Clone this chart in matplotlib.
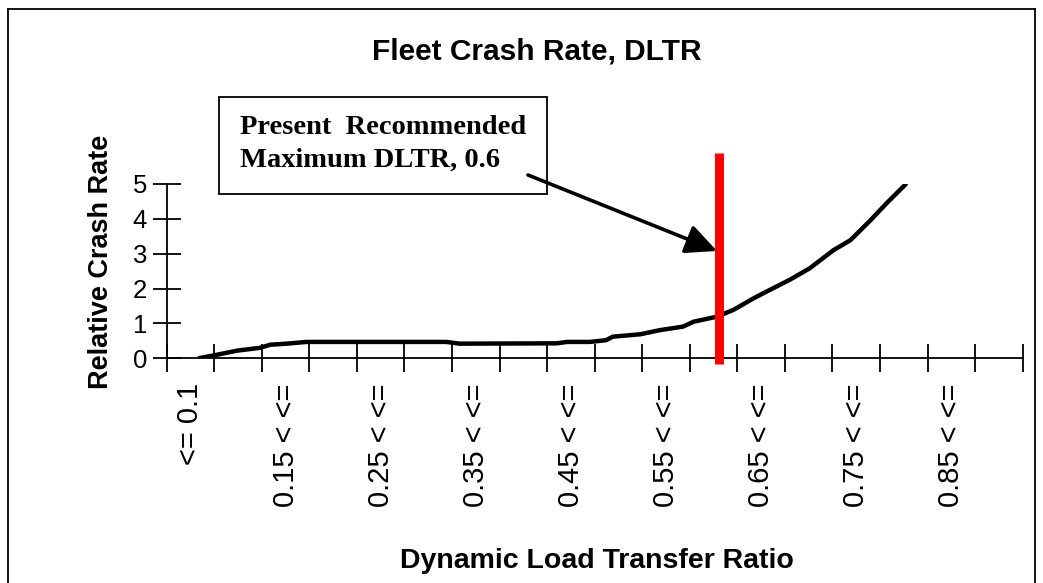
import matplotlib
matplotlib.use("Agg")
import matplotlib.pyplot as plt
from matplotlib.patches import Rectangle
from matplotlib.lines import Line2D

plt.rcParams["font.family"] = ["Liberation Sans", "DejaVu Sans"]

# DLTR bin edges (category axis) and the labels Excel actually printed
bin_edges = [0.05 + 0.05 * i for i in range(19)]
label_pos = [0.075, 0.175, 0.275, 0.375, 0.475, 0.575, 0.675, 0.775, 0.875]
bin_labels = ["<= 0.1", "0.15 < <=", "0.25 < <=", "0.35 < <=", "0.45 < <=",
              "0.55 < <=", "0.65 < <=", "0.75 < <=", "0.85 < <="]

# Relative crash rate curve
dltr = [0.083, 0.099, 0.124, 0.148, 0.159, 0.176, 0.197, 0.344, 0.358, 0.460,
        0.471, 0.495, 0.512, 0.519, 0.548, 0.569, 0.593, 0.604, 0.628, 0.646,
        0.667, 0.684, 0.705, 0.726, 0.751, 0.769, 0.790, 0.807, 0.828]
crash_rate = [0.0, 0.08, 0.22, 0.30, 0.39, 0.42, 0.47, 0.47, 0.42, 0.43,
              0.47, 0.47, 0.52, 0.62, 0.69, 0.81, 0.91, 1.05, 1.19, 1.39,
              1.72, 1.96, 2.25, 2.58, 3.10, 3.39, 3.96, 4.45, 5.02]

limit_x = 0.631  # red marker as drawn
limit_y = [-0.17, 5.89]

fig = plt.figure(figsize=(10.43, 5.83), dpi=100)
ax = fig.add_axes([0.1598, 0.3854, 0.8207, 0.2990])

ax.plot(dltr, crash_rate, color="black", lw=3.2, solid_capstyle="butt")
ax.plot([limit_x, limit_x], limit_y, color="#ff0000", lw=6.5,
        solid_capstyle="butt", clip_on=False, zorder=5)

ax.set_xlim(0.05, 0.95)
ax.set_ylim(0, 5)
for side in ["top", "right"]:
    ax.spines[side].set_visible(False)
for side in ["left", "bottom"]:
    ax.spines[side].set_linewidth(1.3)

ax.set_xticks(bin_edges)
ax.set_xticklabels([])
ax.set_xticks(label_pos, minor=True)
ax.set_xticklabels(bin_labels, minor=True, rotation=90, fontsize=21,
                   va="top")
ax.tick_params(axis="x", which="major", direction="inout", length=20,
               width=1.3)
ax.tick_params(axis="x", which="minor", length=0, pad=18)
ax.set_yticks(range(6))
ax.tick_params(axis="y", direction="inout", length=20, width=1.3,
               labelsize=18.5, pad=4)

# annotation box + arrow
box = Rectangle((219 / 1043, 1 - 194 / 583), (547 - 219) / 1043,
                (194 - 97) / 583, transform=fig.transFigure,
                fill=False, lw=1.3, edgecolor="black")
fig.patches.append(box)
fig.text(240 / 1043, 1 - 127 / 583, "Present  Recommended",
         family=["Liberation Serif", "DejaVu Serif"], weight="bold",
         fontsize=20.5, va="center", ha="left")
fig.text(240 / 1043, 1 - 160 / 583, "Maximum DLTR, 0.6",
         family=["Liberation Serif", "DejaVu Serif"], weight="bold",
         fontsize=20.5, va="center", ha="left")
ax.annotate("", xy=(717 / 1043, 1 - 251 / 583), xycoords="figure fraction",
            xytext=(528 / 1043, 1 - 175 / 583), textcoords="figure fraction",
            arrowprops=dict(arrowstyle="-|>,head_length=1.9,head_width=0.9",
                            color="black", lw=2.6, shrinkA=0, shrinkB=0),
            annotation_clip=False)

fig.text(537 / 1043, 1 - 52 / 583, "Fleet Crash Rate, DLTR",
         fontsize=21.5, weight="bold", ha="center", va="center")
fig.text(597 / 1043, 1 - 561 / 583, "Dynamic Load Transfer Ratio",
         fontsize=20.5, weight="bold", ha="center", va="center")
fig.text(101 / 1043, 1 - 262 / 583, "Relative Crash Rate",
         fontsize=19.5, weight="bold", ha="center", va="center",
         rotation=90)

# outer chart-area border
for xs, ys in [([8, 8], [9, 600]), ([8, 1035], [9, 9]),
               ([1035, 1035], [9, 600])]:
    fig.add_artist(Line2D([x / 1043 for x in xs], [1 - y / 583 for y in ys],
                          transform=fig.transFigure, color="black", lw=1.3))

fig.savefig("out.png", dpi=100)
